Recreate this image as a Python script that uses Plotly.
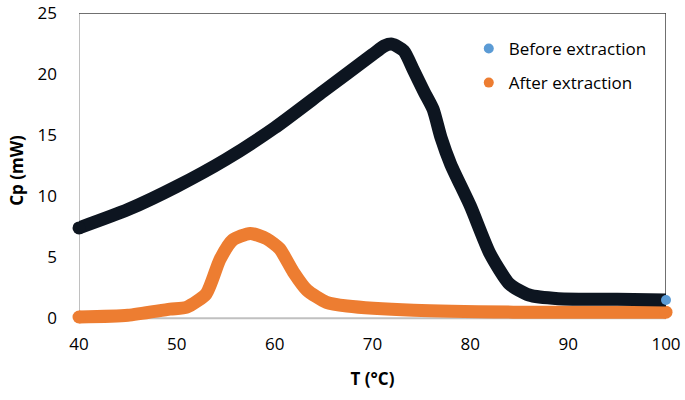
import plotly.graph_objects as go

# Data
t_before = [40, 45, 50, 55, 60, 65, 70, 71.2, 72, 73.2, 74.2, 75.3, 76.2, 77, 78,
            80, 82, 84, 86, 89, 95, 100]
cp_before = [7.4, 8.9, 10.8, 13.0, 15.6, 18.6, 21.6, 22.3, 22.45, 21.9, 20.3, 18.5, 17.1, 14.8, 12.6,
             9.2, 5.3, 2.8, 1.9, 1.6, 1.55, 1.5]

t_after = [40, 45, 49.3, 51.0, 53.0, 54.4, 55.7, 57.5, 59.2, 60.5, 61.9, 63.3,
           65.3, 67.4, 74.2, 84.4, 100]
cp_after = [0.1, 0.25, 0.75, 0.9, 2.0, 4.8, 6.4, 6.95, 6.5, 5.7, 3.8, 2.3,
            1.3, 1.0, 0.65, 0.5, 0.5]

legend_names = ["Before extraction", "After extraction"]
legend_colors = ["#5B9BD5", "#ED7D31"]
x_ticks = [40, 50, 60, 70, 80, 90, 100]
y_ticks = [0, 5, 10, 15, 20, 25]
x_min, x_max = 40, 100
y_min, y_max = 0, 25

fig = go.Figure()
fig.add_trace(go.Scatter(x=t_after, y=cp_after, mode="lines", cliponaxis=False,
                         line=dict(color="#ED7D31", width=13, shape="spline", smoothing=0.6),
                         showlegend=False, hoverinfo="skip"))
fig.add_trace(go.Scatter(x=[t_after[0], t_after[-1]], y=[cp_after[0], cp_after[-1]], mode="markers",
                         cliponaxis=False, marker=dict(color="#ED7D31", size=13),
                         showlegend=False, hoverinfo="skip"))
fig.add_trace(go.Scatter(x=t_before, y=cp_before, mode="lines", cliponaxis=False,
                         line=dict(color="#0D1520", width=13, shape="spline", smoothing=0.6),
                         showlegend=False, hoverinfo="skip"))
fig.add_trace(go.Scatter(x=[t_before[0]], y=[cp_before[0]], mode="markers", cliponaxis=False,
                         marker=dict(color="#0D1520", size=13), showlegend=False, hoverinfo="skip"))
fig.add_trace(go.Scatter(x=[t_before[-1]], y=[cp_before[-1]], mode="markers", cliponaxis=False,
                         marker=dict(color="#5B9BD5", size=10), showlegend=False, hoverinfo="skip"))

for i, (n, c) in enumerate(zip(legend_names, legend_colors)):
    fig.add_trace(go.Scatter(x=[None], y=[None], mode="markers", name=n,
                             marker=dict(color=c, size=10), legendgroup=f"g{i}"))

gray = dict(color="#C0C0C0", width=2)
dark = dict(color="#404040", width=1.5)
fig.update_layout(
    width=685, height=400,
    margin=dict(l=79, r=19, t=13, b=72),
    paper_bgcolor="white", plot_bgcolor="white",
    font=dict(family="Open Sans, Noto Sans, sans-serif", color="#000000"),
    legend=dict(x=0.664, y=0.943, xanchor="left", yanchor="top", bgcolor="rgba(0,0,0,0)",
                font=dict(size=17), tracegroupgap=9, itemwidth=30),
    xaxis=dict(range=[x_min, x_max], tickvals=x_ticks, showgrid=False, zeroline=False,
               showline=False, ticks="",
               automargin=False, ticklabeloverflow="allow",
               tickfont=dict(size=17), ticklabelstandoff=4,
               title=dict(text="<b>T (°C)</b>", font=dict(size=17), standoff=19)),
    yaxis=dict(range=[y_min - 0.8, y_max], tickvals=y_ticks, showgrid=False, zeroline=False,
               showline=False, ticks="",
               automargin=False, ticklabeloverflow="allow",
               tickfont=dict(size=17), ticklabelstandoff=21,
               title=dict(text="<b>Cp (mW)</b>", font=dict(size=17), standoff=9)),
    shapes=[
        dict(type="line", xref="x", yref="y", x0=x_min, x1=x_max, y0=y_min, y1=y_min,
             line=gray, layer="below"),
        dict(type="line", xref="x", yref="y", x0=x_min, x1=x_min, y0=y_min, y1=y_max,
             line=gray, layer="below"),
        dict(type="line", xref="x", yref="y", x0=x_min, x1=x_max, y0=y_max, y1=y_max,
             line=dark, layer="below"),
        dict(type="line", xref="x", yref="y", x0=x_max, x1=x_max, y0=y_min, y1=y_max,
             line=dark, layer="below"),
    ],
)

fig.write_html("out.html", config={"displayModeBar": False},
               post_script="document.body.style.margin='0';document.body.style.overflow='hidden';")
